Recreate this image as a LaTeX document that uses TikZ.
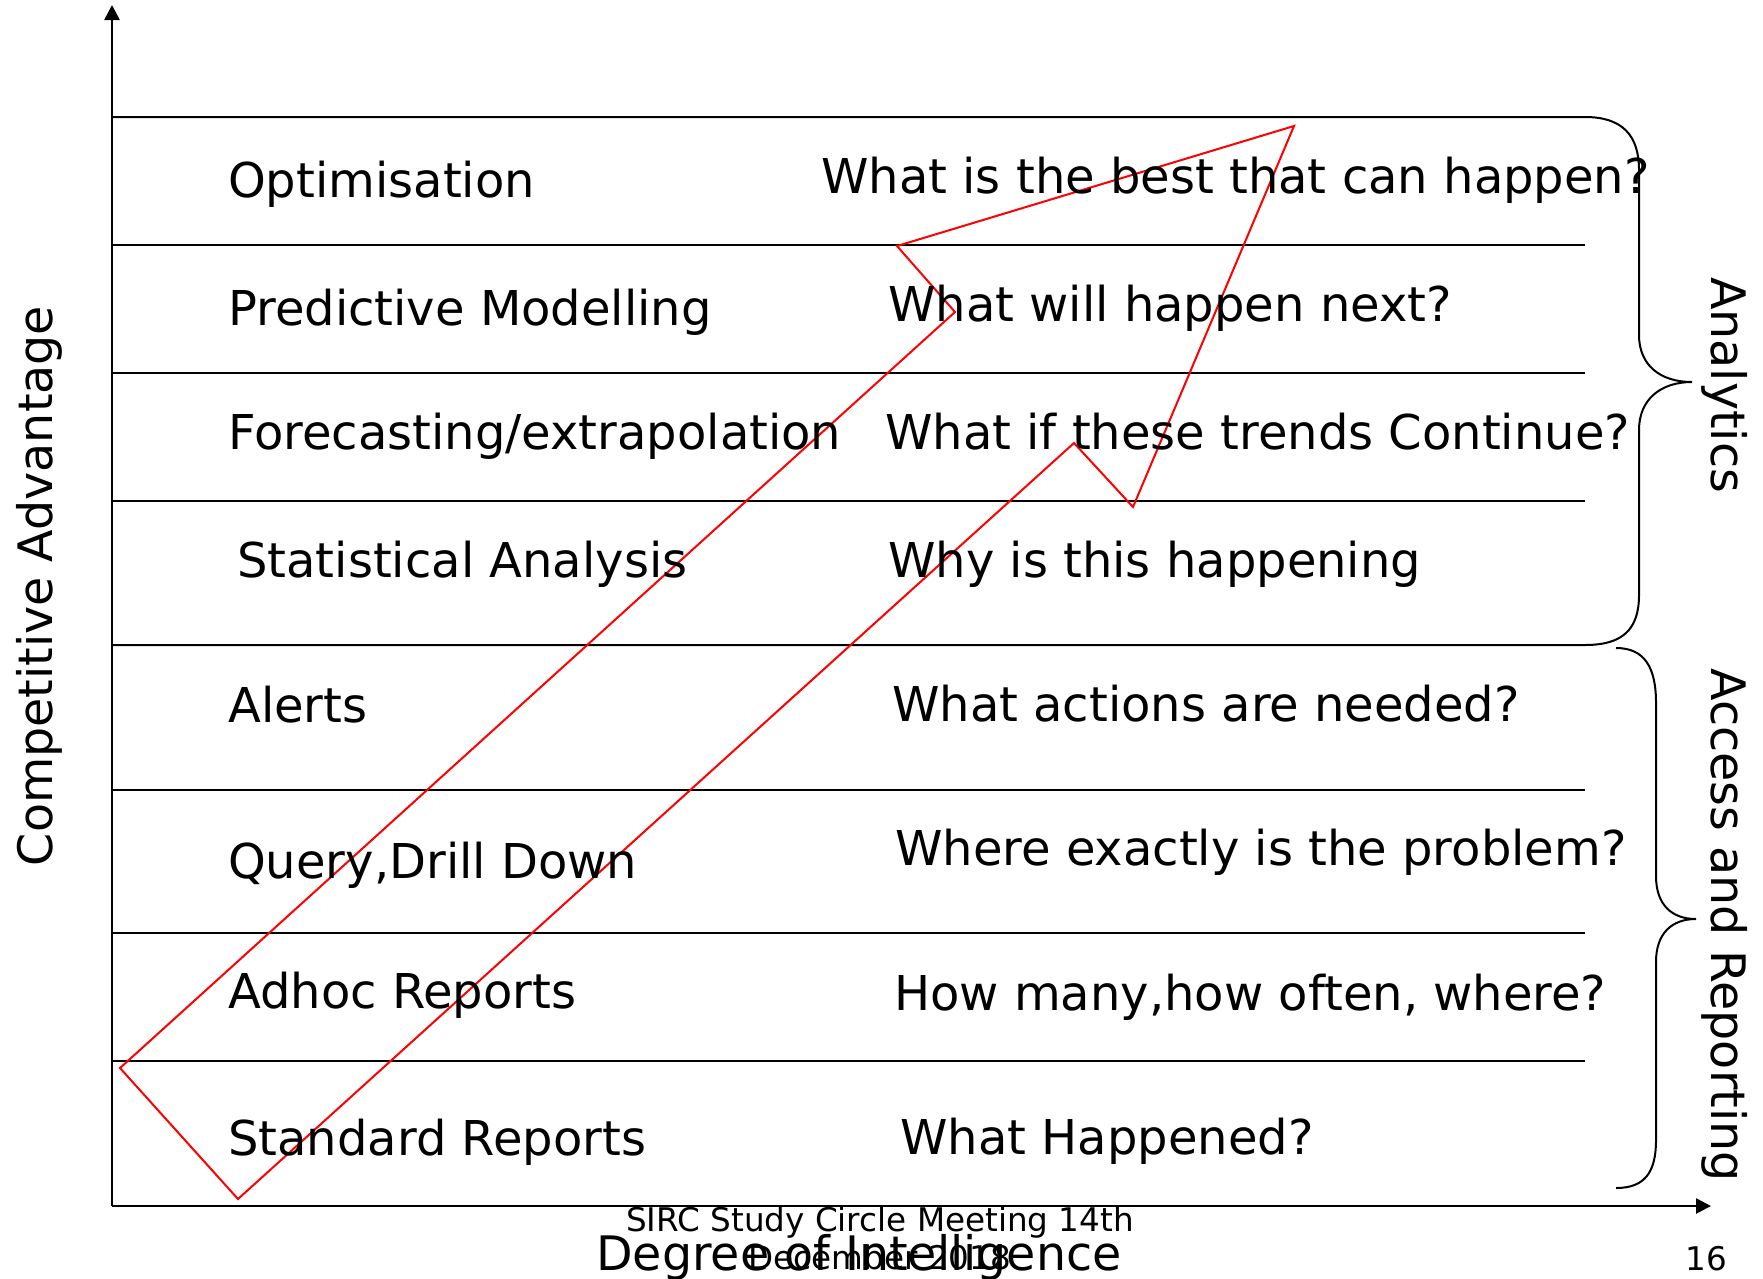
\documentclass[tikz,border=0pt]{standalone}
\usepackage{fontspec}
\setmainfont{DejaVu Sans}
\usetikzlibrary{arrows.meta}
\begin{document}
\begin{tikzpicture}[x=1pt,y=-1pt,
  axisline/.style={line width=2.6pt,-{Triangle[length=15pt,width=15pt]}},
  rowline/.style={line width=2pt},
  bracepath/.style={line width=2pt},
  redshape/.style={draw=red,line width=2pt,line join=miter},
  lbl/.style={anchor=base west,inner sep=0pt,font=\fontsize{48}{57}\selectfont},
  axlbl/.style={anchor=base,inner sep=0pt,font=\fontsize{47.5}{57}\selectfont},
  foot/.style={anchor=base,inner sep=0pt,font=\fontsize{32.6}{38}\selectfont}]
\useasboundingbox (0,0) rectangle (1763,1278);
\fill[white] (0,0) rectangle (1763,1278);

% axes
\coordinate (O) at (112,1206);
\coordinate (Ytip) at (112,5);
\coordinate (Xtip) at (1711,1206);
\draw[axisline] (O) -- (Ytip);
\draw[axisline] (O) -- (Xtip);

% row lines
\foreach \yy/\nm in {245/a,373/b,501/c,790/d,933/e,1061/f}{
  \coordinate (L\nm) at (112,\yy);
  \coordinate (R\nm) at (1585,\yy);
  \draw[rowline] (L\nm) -- (R\nm);
}

% analytics brace (with top and bottom lines)
\coordinate (AT) at (112,117);
\coordinate (AB) at (112,645);
\coordinate (Atip) at (1692,382);
\draw[bracepath] (AT) -- (1585,117)
  .. controls (1622,117) and (1639,135) .. (1639,170)
  -- (1639,335)
  .. controls (1639,365) and (1660,382) .. (Atip)
  .. controls (1660,382) and (1639,400) .. (1639,430)
  -- (1639,595)
  .. controls (1639,630) and (1622,645) .. (1585,645)
  -- (AB);

% access and reporting brace
\coordinate (Btop) at (1616,648);
\coordinate (Btip) at (1696,919);
\coordinate (Bbot) at (1616,1188);
\draw[bracepath] (Btop)
  .. controls (1645,648) and (1656,668) .. (1656,703)
  -- (1656,876)
  .. controls (1656,905) and (1672,919) .. (Btip)
  .. controls (1672,919) and (1656,933) .. (1656,962)
  -- (1656,1140)
  .. controls (1656,1172) and (1645,1188) .. (Bbot);

% red arrow shape
\draw[redshape] (120,1068) -- (238,1199) -- (1074,443) -- (1133,507)
  -- (1294,126) -- (897,246) -- (955,312) -- cycle;

% left labels
\node[lbl] (t1) at (228,197) {Optimisation};
\node[lbl] (t2) at (228,325) {Predictive Modelling};
\node[lbl] (t3) at (228,449) {Forecasting/extrapolation};
\node[lbl] (t4) at (237,577) {Statistical Analysis};
\node[lbl] (t5) at (228,722) {Alerts};
\node[lbl] (t6) at (228,878) {Query,Drill Down};
\node[lbl] (t7) at (228,1008) {Adhoc Reports};
\node[lbl] (t8) at (228,1155) {Standard Reports};

% right labels
\node[lbl] (q1) at (821,193) {What is the best that can happen?};
\node[lbl] (q2) at (888,321) {What will happen next?};
\node[lbl] (q3) at (885,449) {What if these trends Continue?};
\node[lbl] (q4) at (888,577) {Why is this happening};
\node[lbl] (q5) at (892,721) {What actions are needed?};
\node[lbl] (q6) at (895,865) {Where exactly is the problem?};
\node[lbl] (q7) at (894,1010) {How many,how often, where?};
\node[lbl] (q8) at (900,1154) {What Happened?};

% axis labels
\node[axlbl,rotate=90] (ylab) at (52,586) {Competitive Advantage};
\node[axlbl] (xlab) at (859,1270) {Degree of Intelligence};
\node[axlbl,rotate=-90] (an) at (1711,385) {Analytics};
\node[axlbl,rotate=-90] (ar) at (1711,925) {Access and Reporting};

% footer
\node[foot] (f1) at (880,1231) {SIRC Study Circle Meeting 14th};
\node[foot] (f2) at (880,1269) {December 2018};
\node[foot] (pg) at (1706,1270) {16};
\end{tikzpicture}
\end{document}
